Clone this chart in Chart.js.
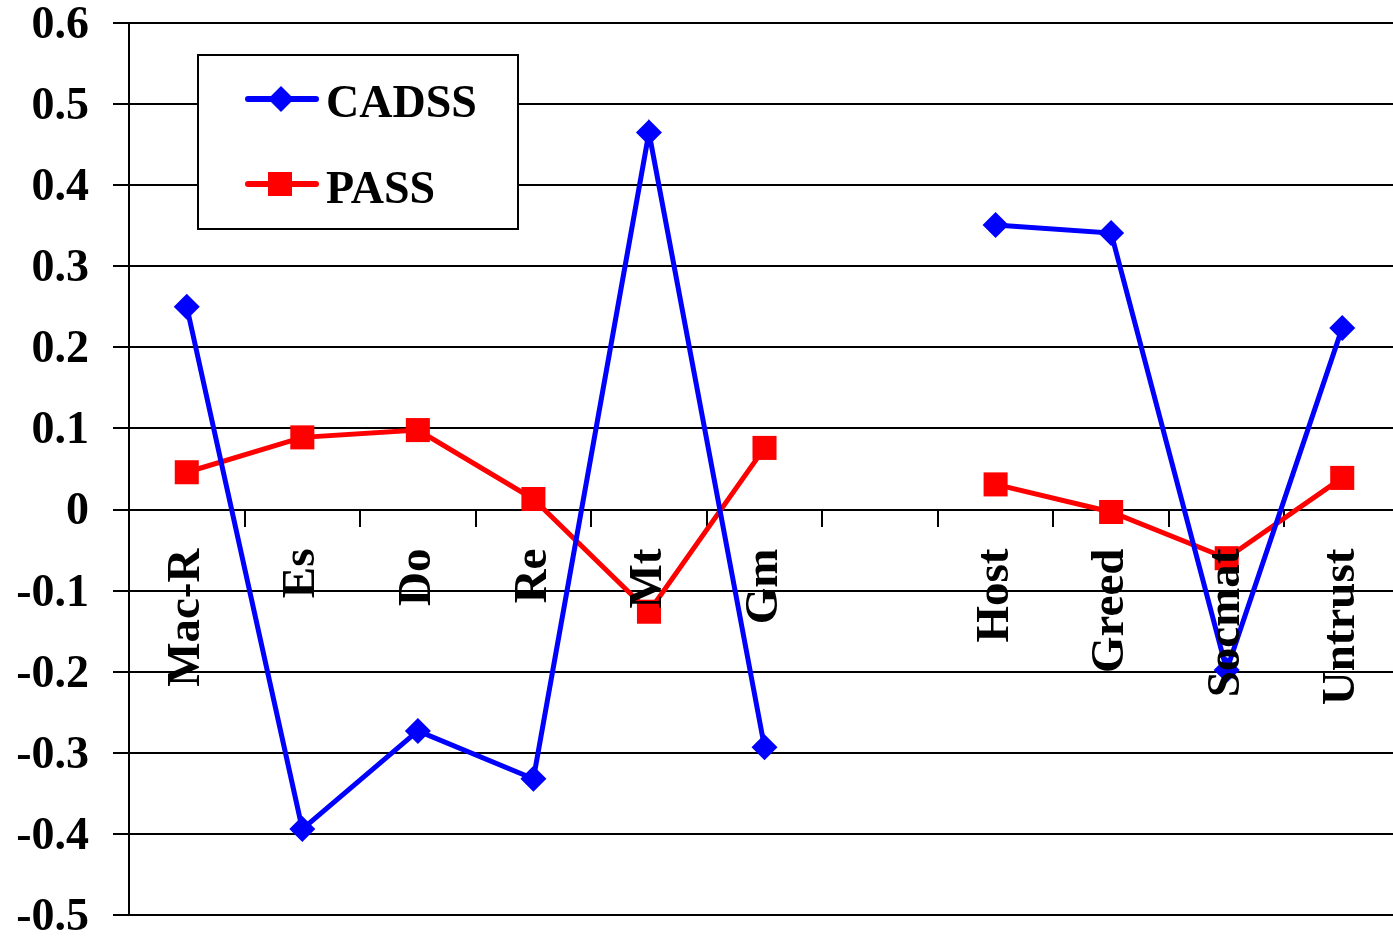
<!DOCTYPE html>
<html>
<head>
<meta charset="utf-8">
<title>CADSS vs PASS</title>
<script src="https://cdn.jsdelivr.net/npm/chart.js@4/dist/chart.umd.min.js"></script>
<style>
  html, body { margin: 0; padding: 0; background: #fff; overflow: hidden; }
  #wrap { width: 1400px; height: 937px; position: relative; }
</style>
</head>
<body>
<div id="wrap"><canvas id="c"></canvas></div>
<script>
// Scale categories (the empty slot separates the two groups)
const categories = ['Mac-R', 'Es', 'Do', 'Re', 'Mt', 'Gm', '', 'Host', 'Greed', 'Socmat', 'Untrust'];

// Correlation values per scale
const cadssValues = [0.25, -0.394, -0.273, -0.332, 0.465, -0.293, null, 0.351, 0.341, -0.198, 0.224];
const passValues  = [0.046, 0.089, 0.098, 0.013, -0.126, 0.076, null, 0.031, -0.003, -0.060, 0.039];

// Value axis ticks
const yTicks = [-0.5, -0.4, -0.3, -0.2, -0.1, 0, 0.1, 0.2, 0.3, 0.4, 0.5, 0.6];

const FONT = "'Liberation Serif', 'Times New Roman', serif";

// Framed legend drawn inside the plot area
const boxedLegend = {
  id: 'boxedLegend',
  afterDraw(chart) {
    const ctx = chart.ctx;
    const x0 = 198, y0 = 55, w = 320, h = 174;
    ctx.save();
    ctx.fillStyle = '#fff';
    ctx.fillRect(x0, y0, w, h);
    ctx.lineWidth = 2;
    ctx.strokeStyle = '#000';
    ctx.strokeRect(x0, y0, w, h);
    const rows = [{ y: 99, base: 117 }, { y: 184, base: 203 }];
    chart.data.datasets.forEach((ds, i) => {
      const r = rows[i];
      ctx.strokeStyle = ds.borderColor;
      ctx.lineWidth = 6;
      ctx.lineCap = 'round';
      ctx.beginPath();
      ctx.moveTo(248, r.y);
      ctx.lineTo(316, r.y);
      ctx.stroke();
      ctx.fillStyle = ds.borderColor;
      if (ds.pointStyle === 'rectRot') {
        ctx.beginPath();
        ctx.moveTo(281 - 13, r.y);
        ctx.lineTo(281, r.y - 13);
        ctx.lineTo(281 + 13, r.y);
        ctx.lineTo(281, r.y + 13);
        ctx.closePath();
        ctx.fill();
      } else {
        ctx.fillRect(268, r.y - 12, 24, 24);
      }
      ctx.fillStyle = '#000';
      ctx.font = 'bold 46px ' + FONT;
      ctx.textBaseline = 'alphabetic';
      ctx.textAlign = 'left';
      ctx.fillText(ds.label, 326, r.base);
    });
    ctx.restore();
  }
};

new Chart(document.getElementById('c'), {
  type: 'line',
  data: {
    labels: categories,
    datasets: [
      {
        label: 'CADSS',
        data: cadssValues,
        borderColor: '#0000FF',
        backgroundColor: '#0000FF',
        borderWidth: 5,
        pointStyle: 'rectRot',
        pointRadius: 13,
        pointHoverRadius: 13,
        pointBorderWidth: 0,
        tension: 0,
        spanGaps: false
      },
      {
        label: 'PASS',
        data: passValues,
        borderColor: '#FF0000',
        backgroundColor: '#FF0000',
        borderWidth: 5,
        pointStyle: 'rect',
        pointRadius: 17,
        pointHoverRadius: 17,
        pointBorderWidth: 0,
        tension: 0,
        spanGaps: false
      }
    ]
  },
  options: {
    responsive: true,
    maintainAspectRatio: false,
    devicePixelRatio: 1,
    animation: false,
    events: [],
    layout: { padding: 0, autoPadding: false },
    plugins: {
      legend: { display: false },
      tooltip: { enabled: false }
    },
    scales: {
      y: {
        min: -0.5,
        max: 0.6,
        afterBuildTicks(scale) {
          scale.ticks = yTicks.map(v => ({ value: v }));
        },
        afterFit(scale) {
          scale.width = 129;
          scale.paddingTop = 23;
          scale.paddingBottom = 22;
        },
        grid: {
          color: '#000',
          lineWidth: 2,
          tickLength: 16,
          drawTicks: true
        },
        border: { color: '#000', width: 2 },
        ticks: {
          color: '#000',
          padding: 24,
          labelOffset: 3,
          font: { family: FONT, size: 46, weight: 'bold', lineHeight: 1 },
          callback: v => String(parseFloat(Number(v).toFixed(1)))
        }
      },
      x: {
        position: { y: 0 },
        offset: true,
        afterFit(scale) { scale.paddingLeft = 0; scale.paddingRight = 0; },
        grid: {
          offset: true,
          drawOnChartArea: false,
          drawTicks: true,
          tickLength: 16,
          color: '#000',
          lineWidth: 2
        },
        border: { color: '#000', width: 2 },
        ticks: {
          z: 1,
          color: '#000',
          autoSkip: false,
          minRotation: 90,
          maxRotation: 90,
          padding: 23,
          font: { family: FONT, size: 47, weight: 'bold', lineHeight: 1 }
        }
      }
    }
  },
  plugins: [boxedLegend]
});
</script>
</body>
</html>
